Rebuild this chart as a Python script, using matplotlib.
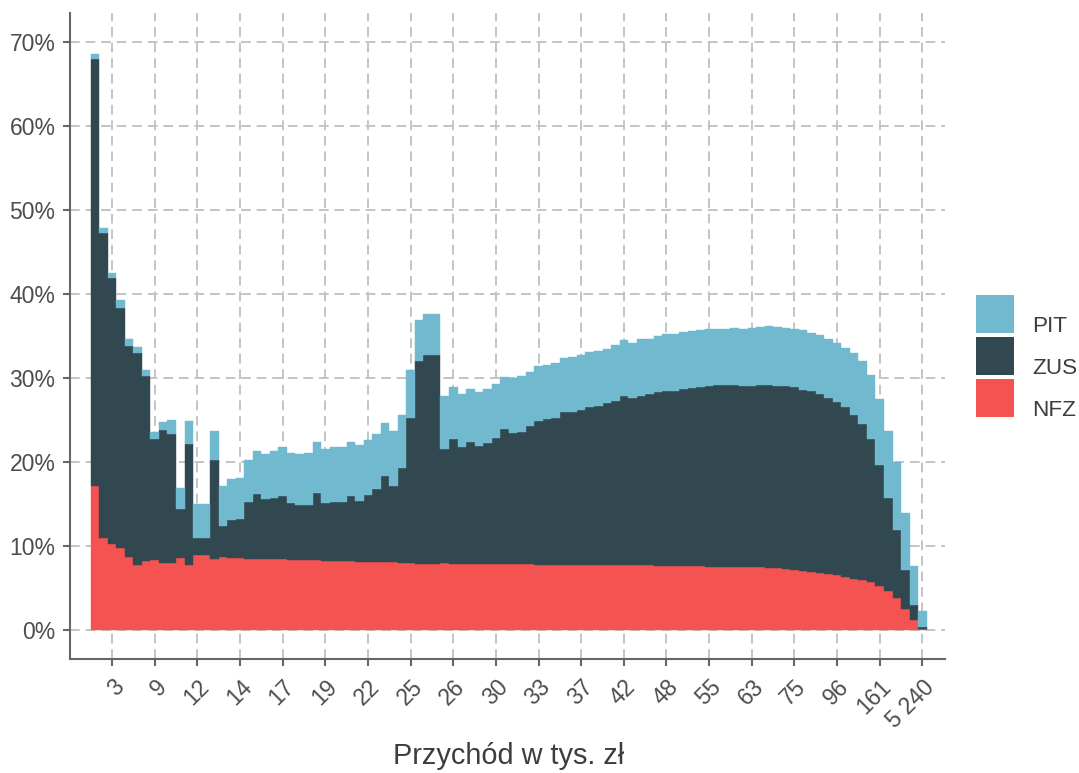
import numpy as np
import matplotlib
matplotlib.use("Agg")
import matplotlib.pyplot as plt
from matplotlib.patches import Rectangle
from matplotlib.ticker import PercentFormatter

plt.rcParams['font.family'] = ['Liberation Sans', 'DejaVu Sans']

# shares of income (in %) for 98 income groups, stacked NFZ -> ZUS -> PIT
nfz = [17.1, 10.9, 10.2, 9.8, 8.7, 7.8, 8.2, 8.3, 8.0, 8.0,
       8.6, 7.8, 8.9, 8.9, 8.5, 8.7, 8.6, 8.6, 8.5, 8.45,
       8.45, 8.4, 8.4, 8.3, 8.3, 8.3, 8.3, 8.25, 8.2, 8.2,
       8.2, 8.15, 8.1, 8.1, 8.1, 8.1, 8.0, 7.95, 7.9, 7.9,
       7.9, 7.95, 7.9, 7.9, 7.9, 7.9, 7.9, 7.9, 7.85, 7.85,
       7.85, 7.85, 7.8, 7.8, 7.8, 7.8, 7.8, 7.75, 7.75, 7.75,
       7.7, 7.7, 7.7, 7.7, 7.7, 7.7, 7.65, 7.65, 7.65, 7.6,
       7.6, 7.6, 7.55, 7.55, 7.5, 7.5, 7.5, 7.45, 7.45, 7.4,
       7.35, 7.25, 7.15, 7.05, 6.95, 6.8, 6.65, 6.5, 6.3, 6.1,
       5.95, 5.75, 5.2, 4.6, 3.8, 2.55, 1.2, 0.15]
zus = [50.9, 36.4, 31.7, 28.6, 25.1, 25.2, 22.0, 14.5, 15.8, 15.3,
       5.8, 14.3, 2.0, 2.0, 11.7, 3.7, 4.5, 4.6, 6.8, 7.75,
       7.15, 7.3, 7.5, 6.8, 6.6, 6.6, 8.0, 6.85, 7.1, 7.0,
       7.8, 7.25, 8.0, 8.7, 10.2, 9.0, 11.3, 17.25, 24.1, 24.9,
       24.9, 13.65, 14.8, 13.9, 14.5, 14.0, 14.4, 15.0, 16.05, 15.65,
       15.75, 16.45, 17.1, 17.3, 17.5, 18.1, 18.2, 18.45, 18.85, 18.95,
       19.3, 19.6, 20.2, 19.9, 20.2, 20.4, 20.65, 20.75, 20.85, 21.1,
       21.2, 21.3, 21.45, 21.65, 21.7, 21.7, 21.6, 21.65, 21.75, 21.8,
       21.75, 21.75, 21.75, 21.55, 21.45, 21.3, 20.95, 20.6, 20.3, 19.5,
       18.55, 17.05, 14.4, 11.1, 8.1, 4.55, 1.8, 0.21]
pit = [0.6, 0.6, 0.6, 0.9, 0.8, 0.7, 0.8, 0.8, 1.0, 1.7,
       2.5, 2.8, 4.1, 4.1, 3.5, 4.8, 4.9, 4.9, 4.9, 5.1,
       5.4, 5.6, 5.9, 6.0, 6.1, 6.2, 6.1, 6.4, 6.5, 6.6,
       6.4, 6.6, 6.5, 6.5, 6.4, 6.6, 6.3, 5.7, 4.9, 4.8,
       4.8, 6.3, 6.2, 6.3, 6.3, 6.4, 6.4, 6.4, 6.2, 6.5,
       6.6, 6.4, 6.5, 6.4, 6.5, 6.5, 6.5, 6.5, 6.5, 6.5,
       6.5, 6.6, 6.6, 6.6, 6.7, 6.6, 6.7, 6.8, 6.8, 6.8,
       6.8, 6.8, 6.8, 6.7, 6.7, 6.8, 6.8, 6.9, 6.9, 7.0,
       7.0, 7.0, 7.0, 7.1, 7.0, 7.0, 7.1, 7.1, 7.0, 7.4,
       7.5, 7.6, 7.9, 8.0, 8.1, 6.8, 4.65, 1.9]

# every 5th group gets a label (starting from the 3rd group)
tick_labels = ["3", "9", "12", "14", "17", "19", "22", "25", "26", "30",
               "33", "37", "42", "48", "55", "63", "75", "96", "161", "5 240"]

legend_labels = ["PIT", "ZUS", "NFZ"]
c_pit, c_zus, c_nfz = "#71b9cf", "#314850", "#f55252"

nfz = np.array(nfz) / 100
zus = np.array(zus) / 100
pit = np.array(pit) / 100
x = np.arange(1, len(nfz) + 1)

W, H = 1079, 773
fig = plt.figure(figsize=(W / 100, H / 100), dpi=100)
ax = fig.add_axes([70 / W, 1 - 659 / H, (945 - 70) / W, (659 - 12.7) / H])

ax.bar(x, nfz, width=1, color=c_nfz, edgecolor=c_nfz, linewidth=0.3)
ax.bar(x, zus, width=1, bottom=nfz, color=c_zus, edgecolor=c_zus, linewidth=0.3)
ax.bar(x, pit, width=1, bottom=nfz + zus, color=c_pit, edgecolor=c_pit, linewidth=0.3)

ax.set_xlim(-1.93, 100.65)
ax.set_ylim(-0.0345, 0.735)

ax.set_xticks(np.arange(3, len(nfz) + 1, 5))
ax.set_xticklabels(tick_labels, rotation=45, ha='right', va='top',
                   rotation_mode='anchor')
ax.set_yticks(np.arange(0, 0.71, 0.1))
ax.yaxis.set_major_formatter(PercentFormatter(1.0, decimals=0))

ax.grid(True, color='#c4c4c4', linestyle=(0, (5, 3)), linewidth=1.4)
ax.set_axisbelow(True)

for s in ['top', 'right']:
    ax.spines[s].set_visible(False)
for s in ['left', 'bottom']:
    ax.spines[s].set_color('#666666')
    ax.spines[s].set_linewidth(1.5)

ax.tick_params(axis='both', direction='out', length=5, width=1.5,
               color='#666666', labelcolor='#4d4d4d', labelsize=16.5)
ax.tick_params(axis='y', pad=5.5)
ax.tick_params(axis='x', pad=7)

fig.text(509 / W, 1 - 764 / H, "Przychód w tys. zł", fontsize=20.8,
         color='#3d3d3d', ha='center', va='baseline')

# legend (keys stacked: PIT, ZUS, NFZ)
for i, (lab, col) in enumerate(zip(legend_labels, [c_pit, c_zus, c_nfz])):
    top = 295 + i * 42.2
    fig.patches.append(Rectangle((976 / W, 1 - (top + 38) / H), 38 / W, 38 / H,
                                 transform=fig.transFigure, facecolor=col,
                                 edgecolor='none'))
    fig.text(1032 / W, 1 - (top + 37) / H, lab, fontsize=16.2,
             color='#3d3d3d', ha='left', va='baseline')

fig.savefig("out.png", dpi=100)
